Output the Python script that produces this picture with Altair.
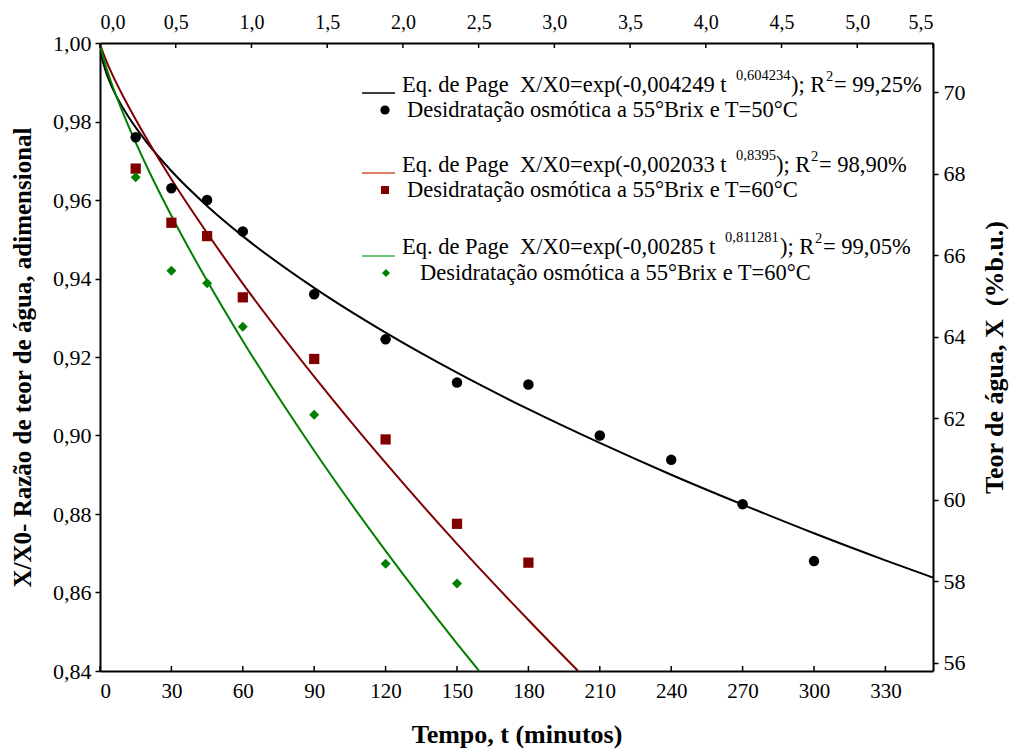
import altair as alt
import pandas as pd

# ---------------- data ----------------
# observed points (time in minutes, X/X0)
t_obs_50 = [15, 30, 45, 60, 90, 120, 150, 180, 210, 240, 270, 300]
xr_obs_50 = [0.976, 0.963, 0.960, 0.952, 0.936, 0.9245, 0.9135, 0.913, 0.900, 0.8938, 0.8825, 0.868]

t_obs_60a = [15, 30, 45, 60, 90, 120, 150, 180]
xr_obs_60a = [0.968, 0.9542, 0.9508, 0.9352, 0.9195, 0.899, 0.8775, 0.8676]

t_obs_60b = [15, 30, 45, 60, 90, 120, 150]
xr_obs_60b = [0.9658, 0.9420, 0.9388, 0.9277, 0.9053, 0.8673, 0.8623]

# fitted Page curves
t_fit_50 = [0, 0.5, 1, 2, 5, 10, 20, 30, 45, 60, 90, 120, 150, 180, 210, 240, 270, 300, 330, 350]
xr_fit_50 = [1.0, 0.9972, 0.9958, 0.9936, 0.9888, 0.9831, 0.9744, 0.9674, 0.9585, 0.9508, 0.9376,
             0.9262, 0.9160, 0.9067, 0.8981, 0.8900, 0.8824, 0.8751, 0.8682, 0.8638]

t_fit_60a = [0, 0.5, 1, 2, 5, 10, 20, 30, 45, 60, 90, 120, 150, 180, 200.9]
xr_fit_60a = [1.0, 0.9989, 0.9980, 0.9964, 0.9922, 0.9861, 0.9752, 0.9653, 0.9516, 0.9387, 0.9150,
              0.8930, 0.8724, 0.8530, 0.8400]

t_fit_60b = [0, 0.5, 1, 2, 5, 10, 20, 30, 45, 60, 90, 120, 150, 159.3]
xr_fit_60b = [1.0, 0.9984, 0.9972, 0.9950, 0.9895, 0.9817, 0.9681, 0.9560, 0.9394, 0.9241, 0.8961,
              0.8706, 0.8470, 0.8400]

# axes ticks
bottom_ticks = [0, 30, 60, 90, 120, 150, 180, 210, 240, 270, 300, 330]
left_ticks = [0.84, 0.86, 0.88, 0.90, 0.92, 0.94, 0.96, 0.98, 1.00]
top_ticks = [0.0, 0.5, 1.0, 1.5, 2.0, 2.5, 3.0, 3.5, 4.0, 4.5, 5.0, 5.5]
right_ticks = [56, 58, 60, 62, 64, 66, 68, 70]

# legend texts (\u00a0 keeps the double spaces)
leg_eq_head = ["Eq. de Page\u00a0\u00a0X/X0=exp(-0,004249 t",
               "Eq. de Page\u00a0\u00a0X/X0=exp(-0,002033 t",
               "Eq. de Page\u00a0\u00a0X/X0=exp(-0,00285 t"]
leg_eq_exp = ["0,604234", "0,8395", "0,811281"]
leg_eq_r2 = ["= 99,25%", "= 98,90%", "= 99,05%"]
leg_desc = ["Desidratação osmótica a 55°Brix e T=50°C",
            "Desidratação osmótica a 55°Brix e T=60°C",
            "Desidratação osmótica a 55°Brix e T=60°C"]

# ---------------- styling ----------------
W, H = 833, 628
FONT = "Liberation Serif"
BLACK = "#000000"
RED = "#800000"
GREEN = "#008000"
LEG_RED = "#d0502f"
LEG_GREEN = "#3fae49"

x_scale = alt.Scale(domain=[0, 350], nice=False, zero=False)
y_scale = alt.Scale(domain=[0.84, 1.0], nice=False, zero=False)

x_enc = alt.X("t:Q", scale=x_scale,
              axis=alt.Axis(orient="bottom", values=bottom_ticks, format="d",
                            title="Tempo, t (minutos)", tickSize=0, labelPadding=9,
                            labelFontSize=21, titleFontSize=26, titlePadding=20))
y_enc = alt.Y("v:Q", scale=y_scale,
              axis=alt.Axis(orient="left", values=left_ticks,
                            labelExpr="replace(format(datum.value, '.2f'), '.', ',')",
                            title="X/X0- Razão de teor de água, adimensional",
                            tickSize=5, labelPadding=4, labelFontSize=22,
                            titleFontSize=25, titlePadding=17))


def df(t, v):
    return pd.DataFrame({"t": t, "v": v})


def fit_line(t, v, color):
    return alt.Chart(df(t, v)).mark_line(color=color, strokeWidth=2, clip=True,
                                         interpolate="monotone").encode(x=x_enc, y=y_enc)


def obs_points(t, v, color, shape, size):
    return alt.Chart(df(t, v)).mark_point(color=color, fill=color, filled=True, opacity=1,
                                          shape=shape, size=size, strokeWidth=0).encode(x=x_enc, y=y_enc)


layers = [
    fit_line(t_fit_50, xr_fit_50, BLACK),
    fit_line(t_fit_60a, xr_fit_60a, RED),
    fit_line(t_fit_60b, xr_fit_60b, GREEN),
    obs_points(t_obs_50, xr_obs_50, BLACK, "circle", 110),
    obs_points(t_obs_60a, xr_obs_60a, RED, "square", 105),
    obs_points(t_obs_60b, xr_obs_60b, GREEN, "diamond", 100),
]

# inward ticks on the bottom axis
layers.append(
    alt.Chart(pd.DataFrame({"t": bottom_ticks})).mark_rule(color=BLACK, strokeWidth=1.5)
    .encode(x=x_enc, y=alt.value(H - 5), y2=alt.value(H))
)

# ---------------- legend (annotation, pixel layout inside the plot) ----------------
dummy = pd.DataFrame({"a": [0]})
MAIN_FS = 22.5
SUP_FS = 14.5


def txt(s, x, y, size):
    return alt.Chart(dummy).mark_text(text=s, font=FONT, fontSize=size, align="left",
                                      baseline="middle", color=BLACK).encode(
        x=alt.value(x), y=alt.value(y))


leg_line_colors = [BLACK, LEG_RED, LEG_GREEN]
leg_marker = [("circle", BLACK, 85), ("square", RED, 64), ("diamond", GREEN, 64)]
eq_y = [42, 122, 204]
sup_x = [636, 636, 625]
tail_x = [691, 676, 680]
two_x = [726, 711, 715]
r2_x = [734, 719, 723]
line_y = [50, 130, 213]
desc_y = [67, 147, 230]
desc_x = [307, 307, 320]
marker_x = [285, 285, 286]

for i in range(3):
    layers.append(
        alt.Chart(dummy).mark_rule(color=leg_line_colors[i], strokeWidth=1.5).encode(
            x=alt.value(262), x2=alt.value(295), y=alt.value(line_y[i]))
    )
    layers.append(txt(leg_eq_head[i], 302, eq_y[i], MAIN_FS))
    layers.append(txt(leg_eq_exp[i], sup_x[i], eq_y[i] - 9, SUP_FS))
    layers.append(txt("); R", tail_x[i], eq_y[i], MAIN_FS))
    layers.append(txt("2", two_x[i], eq_y[i] - 8, SUP_FS))
    layers.append(txt(leg_eq_r2[i], r2_x[i], eq_y[i], MAIN_FS))
    shp, col, sz = leg_marker[i]
    layers.append(
        alt.Chart(dummy).mark_point(shape=shp, color=col, fill=col, filled=True, opacity=1,
                                    size=sz, strokeWidth=0).encode(
            x=alt.value(marker_x[i]), y=alt.value(desc_y[i]))
    )
    layers.append(txt(leg_desc[i], desc_x[i], desc_y[i], MAIN_FS))

main = alt.layer(*layers)

# ---------------- secondary axes (top: hours, right: moisture content) ----------------
top_x = alt.X("h:Q", scale=alt.Scale(domain=[0, 5.5], nice=False, zero=False),
              axis=alt.Axis(orient="top", values=top_ticks, tickSize=0,
                            labelExpr="replace(format(datum.value, '.1f'), '.', ',')",
                            title=None, labelPadding=11, labelFontSize=20))
right_y = alt.Y("w:Q", scale=alt.Scale(domain=[55.8, 71.215], nice=False, zero=False),
                axis=alt.Axis(orient="right", values=right_ticks, format="d",
                              title="Teor de água, X\u00a0\u00a0(%b.u.)", titleAngle=270,
                              titleBaseline="top",
                              tickSize=5, labelPadding=5, labelFontSize=22,
                              titleFontSize=26, titlePadding=16))

top_rules = alt.Chart(pd.DataFrame({"h": top_ticks})).mark_rule(color=BLACK, strokeWidth=1.5).encode(
    x=top_x, y=alt.value(0), y2=alt.value(5))
right_dummy = alt.Chart(pd.DataFrame({"h": [0.0], "w": [60.0]})).mark_point(opacity=0).encode(
    x=top_x, y=right_y)

secondary = alt.layer(top_rules, right_dummy)

chart = (
    alt.layer(main, secondary)
    .resolve_scale(x="independent", y="independent")
    .properties(width=W, height=H,
                autosize=alt.AutoSizeParams(type="none"),
                padding={"left": 100, "top": 43, "right": 76, "bottom": 85},
                background="white")
    .configure_view(strokeWidth=0)
    .configure_axis(grid=False, domainColor=BLACK, domainWidth=2, tickColor=BLACK,
                    tickWidth=1.5, labelColor=BLACK, titleColor=BLACK,
                    labelFont=FONT, titleFont=FONT, titleFontWeight="bold")
)

chart.save("out.html", embed_options={"renderer": "svg", "actions": False})
